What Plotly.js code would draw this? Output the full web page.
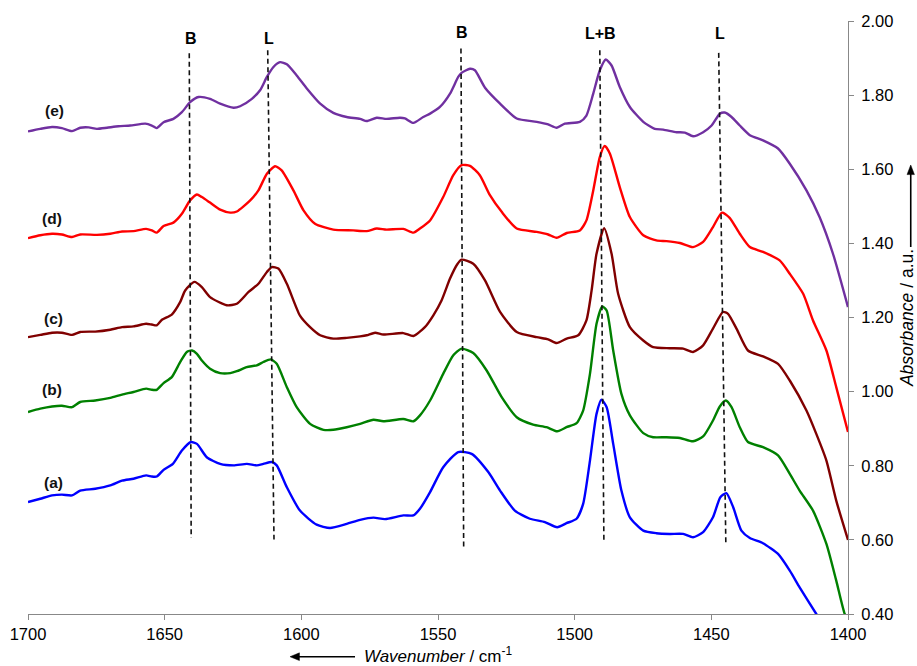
<!DOCTYPE html>
<html>
<head>
<meta charset="utf-8">
<script src="https://cdn.plot.ly/plotly-3.0.1.min.js"></script>
<style>html,body{margin:0;padding:0;background:#fff;}#chart{width:917px;height:666px;}</style>
</head>
<body>
<div id="chart"></div>
<script>
// ---- data (wavenumber / cm-1, absorbance / a.u.) ----
var waveA = [1700,1695.5,1691.2,1687.6,1683.9,1680.9,1675.4,1669.9,1665.6,1661.4,1656.8,1654.7,1652.9,1650.4,1647.0,1643.7,1640.4,1638.2,1634.6,1629.7,1624.8,1619.9,1616.3,1613.9,1610.8,1609.0,1605.3,1600.5,1594.4,1589.5,1583.4,1578.5,1573.6,1569.4,1562.7,1559.0,1556.6,1552.9,1548.1,1542.6,1537.7,1531.6,1527.3,1521.9,1516.4,1510.9,1506.4,1503.0,1499.3,1496.9,1494.4,1492.0,1490.2,1488.3,1485.9,1482.9,1479.8,1474.9,1470.1,1465.2,1460.3,1456.7,1453.0,1449.4,1446.7,1444.5,1442.0,1439.0,1435.9,1431.1,1425.6,1421.3,1417.7,1411.6,1408.0];
var absA  = [0.702,0.711,0.720,0.722,0.720,0.733,0.738,0.747,0.760,0.765,0.774,0.771,0.771,0.789,0.805,0.841,0.864,0.859,0.823,0.805,0.801,0.805,0.801,0.805,0.810,0.801,0.742,0.679,0.641,0.632,0.643,0.654,0.660,0.656,0.666,0.666,0.684,0.729,0.796,0.837,0.832,0.783,0.733,0.679,0.657,0.648,0.634,0.645,0.657,0.697,0.814,0.940,0.978,0.958,0.859,0.733,0.661,0.625,0.618,0.616,0.616,0.607,0.621,0.661,0.715,0.726,0.688,0.625,0.605,0.591,0.562,0.517,0.472,0.400,0.360];

var waveB = [1700,1695.5,1691.2,1687.6,1683.9,1680.9,1675.4,1669.9,1665.6,1661.4,1656.8,1654.7,1652.9,1650.4,1647.4,1644.3,1641.9,1640.0,1638.2,1636.4,1633.4,1629.7,1626.0,1623.6,1620.0,1616.3,1613.9,1611.2,1609.0,1605.3,1601.7,1596.8,1591.9,1588.3,1583.4,1578.5,1573.6,1570.0,1562.7,1559.0,1556.6,1552.9,1548.1,1544.4,1541.4,1537.1,1532.2,1526.7,1521.2,1515.2,1510.3,1506.4,1503.0,1499.3,1496.9,1494.4,1492.0,1489.9,1488.3,1485.9,1482.9,1479.8,1474.9,1471.3,1466.4,1461.5,1456.7,1453.0,1449.4,1446.9,1444.7,1442.6,1439.6,1436.6,1431.1,1425.6,1421.3,1417.7,1412.8,1407.9,1404.3,1401.2,1400.0];
var absB  = [0.945,0.954,0.960,0.962,0.958,0.972,0.976,0.983,0.992,0.999,1.008,1.005,1.005,1.023,1.039,1.080,1.107,1.111,1.102,1.084,1.062,1.050,1.050,1.055,1.066,1.071,1.080,1.087,1.075,1.012,0.958,0.913,0.897,0.897,0.904,0.913,0.924,0.920,0.926,0.920,0.936,0.976,1.048,1.098,1.116,1.104,1.057,0.985,0.931,0.911,0.904,0.893,0.904,0.915,0.949,1.048,1.183,1.230,1.219,1.111,0.994,0.936,0.888,0.877,0.877,0.875,0.866,0.879,0.922,0.960,0.976,0.958,0.904,0.864,0.850,0.828,0.778,0.733,0.679,0.589,0.490,0.400,0.385];

var waveC = [1700,1695.5,1691.2,1687.6,1683.9,1680.9,1675.4,1669.9,1665.6,1661.4,1656.8,1654.7,1652.9,1651.0,1647.4,1644.3,1642.5,1639.1,1636.4,1633.4,1627.3,1623.6,1619.3,1615.7,1612.6,1610.8,1608.4,1605.3,1600.5,1596.8,1593.1,1588.3,1583.4,1578.5,1576.1,1573.0,1570.0,1562.7,1559.0,1554.8,1551.7,1548.7,1545.6,1543.0,1541.4,1537.1,1532.8,1527.3,1521.2,1513.9,1509.7,1506.6,1502.9,1498.7,1495.7,1493.8,1492.0,1489.2,1486.5,1484.1,1479.8,1474.9,1471.3,1465.2,1460.3,1456.7,1453.0,1449.4,1445.7,1443.9,1440.8,1436.6,1431.1,1425.6,1421.3,1415.2,1411.6,1407.9,1404.3,1400.0];
var absC  = [1.147,1.153,1.159,1.159,1.153,1.161,1.162,1.167,1.174,1.176,1.183,1.181,1.179,1.194,1.208,1.242,1.273,1.296,1.282,1.255,1.233,1.237,1.269,1.291,1.323,1.336,1.332,1.291,1.205,1.174,1.152,1.143,1.145,1.149,1.152,1.159,1.154,1.158,1.150,1.174,1.206,1.246,1.305,1.343,1.356,1.345,1.300,1.215,1.161,1.147,1.141,1.131,1.143,1.152,1.192,1.273,1.372,1.441,1.372,1.264,1.174,1.138,1.120,1.117,1.116,1.107,1.125,1.170,1.215,1.210,1.170,1.111,1.095,1.075,1.030,0.949,0.886,0.814,0.706,0.600];

var waveD = [1700,1695.5,1691.2,1687.6,1683.9,1680.9,1674.8,1669.9,1665.6,1661.4,1656.8,1654.7,1652.9,1650.4,1646.8,1643.7,1640.7,1638.2,1636.4,1633.4,1629.7,1626.0,1623.6,1618.7,1615.7,1612.6,1609.6,1607.2,1602.9,1599.2,1595.0,1588.3,1581.0,1576.1,1572.4,1568.8,1562.7,1559.0,1556.6,1552.9,1548.1,1544.4,1541.4,1538.3,1534.7,1531.0,1526.7,1521.2,1513.9,1509.7,1506.6,1502.9,1498.1,1495.7,1493.2,1490.8,1489.0,1487.1,1483.5,1479.8,1474.9,1470.1,1466.4,1461.5,1456.7,1453.0,1449.4,1446.1,1443.3,1439.6,1435.9,1431.1,1425.0,1421.3,1416.4,1412.8,1407.9,1404.3,1400.0];
var absD  = [1.414,1.422,1.426,1.424,1.417,1.424,1.423,1.426,1.432,1.433,1.439,1.435,1.429,1.447,1.456,1.480,1.516,1.532,1.525,1.510,1.491,1.483,1.486,1.516,1.543,1.588,1.608,1.597,1.543,1.489,1.453,1.437,1.435,1.433,1.440,1.437,1.439,1.429,1.440,1.462,1.525,1.584,1.611,1.609,1.584,1.530,1.485,1.440,1.431,1.424,1.415,1.428,1.435,1.462,1.543,1.633,1.663,1.642,1.552,1.471,1.422,1.408,1.406,1.401,1.390,1.404,1.444,1.483,1.469,1.426,1.390,1.377,1.354,1.318,1.264,1.192,1.111,1.012,0.891];

var waveE = [1700,1695.5,1691.2,1687.6,1683.9,1680.9,1677.8,1674.8,1671.1,1666.9,1662.6,1657.1,1654.7,1652.9,1650.4,1646.8,1643.7,1640.7,1637.6,1633.4,1629.7,1624.8,1622.4,1618.1,1615.1,1612.6,1610.2,1607.8,1605.3,1601.7,1598.0,1593.1,1588.3,1583.4,1578.5,1576.1,1572.4,1568.8,1563.9,1562.1,1559.0,1555.4,1552.9,1549.3,1545.6,1542.6,1541.4,1538.3,1536.5,1532.8,1527.3,1521.2,1513.9,1509.7,1506.6,1503.6,1498.1,1495.7,1493.2,1490.8,1488.6,1486.5,1483.5,1479.8,1474.9,1470.7,1467.6,1462.7,1459.7,1456.7,1453.0,1449.9,1446.9,1445.1,1442.6,1439.6,1435.9,1431.1,1425.6,1421.3,1415.2,1410.4,1405.5,1400.0];
var absE  = [1.702,1.709,1.714,1.711,1.703,1.712,1.713,1.709,1.712,1.716,1.718,1.723,1.718,1.711,1.727,1.736,1.754,1.781,1.795,1.790,1.777,1.766,1.770,1.790,1.813,1.849,1.876,1.889,1.883,1.853,1.818,1.777,1.752,1.741,1.736,1.730,1.739,1.736,1.739,1.737,1.725,1.741,1.750,1.768,1.804,1.849,1.860,1.871,1.867,1.820,1.777,1.737,1.728,1.721,1.712,1.723,1.728,1.745,1.804,1.867,1.896,1.880,1.822,1.768,1.728,1.709,1.707,1.700,1.699,1.689,1.700,1.718,1.750,1.753,1.741,1.718,1.692,1.678,1.656,1.615,1.543,1.471,1.372,1.228];

var seriesNames  = ['(a)','(b)','(c)','(d)','(e)'];
var seriesColors = ['#0000ff','#008000','#800000','#ff0000','#7030a0'];
var labelWave    = [1690.8,1691.1,1690.8,1691.1,1690.4];
var labelAbs     = [0.756,1.005,1.197,1.467,1.759];

// peak markers (dashed guide lines)
var peakLabels   = ['B','L','B','L+B','L'];
var peakLabelWave= [1640.4,1612.0,1541.1,1490.5,1446.9];
var peakLabelAbs = [1.952,1.952,1.970,1.966,1.966];
var peakTopWave  = [1641.0,1612.3,1541.6,1490.8,1447.3];
var peakBotWave  = [1640.3,1610.0,1540.6,1489.3,1444.7];
var peakTopAbs   = [1.913,1.921,1.926,1.921,1.914];
var peakBotAbs   = [0.605,0.601,0.574,0.593,0.593];

var xTicks = [1700,1650,1600,1550,1500,1450,1400];

// ---- build ----
var FONT = 'Liberation Sans, Arial, sans-serif';
var waves = [waveA, waveB, waveC, waveD, waveE];
var abss  = [absA, absB, absC, absD, absE];
var traces = waves.map(function(w, i){
  return {x: w, y: abss[i], type: 'scatter', mode: 'lines', name: seriesNames[i],
          line: {color: seriesColors[i], width: 2.4, shape: 'spline', smoothing: 0.6},
          hoverinfo: 'x+y'};
});

var shapes = peakLabels.map(function(l, i){
  return {type: 'line', xref: 'x', yref: 'y', x0: peakTopWave[i], y0: peakTopAbs[i],
          x1: peakBotWave[i], y1: peakBotAbs[i],
          line: {color: '#111', width: 1.6, dash: '5px,3.5px'}};
});
// direction arrows beside the axis titles (paper coordinates)
shapes.push({type: 'line', xref: 'paper', yref: 'paper', x0: 0.3290, y0: -0.0720, x1: 0.3988, y1: -0.0720,
             line: {color: '#000', width: 1.6}});
shapes.push({type: 'path', xref: 'paper', yref: 'paper',
             path: 'M 0.3195 -0.0720 L 0.3310 -0.0655 L 0.3310 -0.0785 Z',
             fillcolor: '#000', line: {color: '#000', width: 0.5}});
shapes.push({type: 'line', xref: 'paper', yref: 'paper', x0: 1.0765, y0: 0.7440, x1: 1.0765, y1: 0.6189,
             line: {color: '#000', width: 1.6}});
shapes.push({type: 'path', xref: 'paper', yref: 'paper',
             path: 'M 1.0765 0.7572 L 1.0720 0.7410 L 1.0810 0.7410 Z',
             fillcolor: '#000', line: {color: '#000', width: 0.5}});

var annotations = [];
peakLabels.forEach(function(l, i){
  annotations.push({x: peakLabelWave[i], y: peakLabelAbs[i], xref: 'x', yref: 'y', text: '<b>' + l + '</b>',
    showarrow: false, font: {family: FONT, size: 16, color: '#000'}});
});
seriesNames.forEach(function(n, i){
  annotations.push({x: labelWave[i], y: labelAbs[i], xref: 'x', yref: 'y', text: '<b>' + n + '</b>',
    showarrow: false, font: {family: FONT, size: 15.5, color: '#111'}});
});

var layout = {
  width: 917, height: 666,
  margin: {l: 28, r: 69, t: 21, b: 52, pad: 0},
  paper_bgcolor: '#fff', plot_bgcolor: '#fff',
  showlegend: false,
  font: {family: FONT, size: 16, color: '#000'},
  xaxis: {
    range: [1700, 1400], tickmode: 'array', tickvals: xTicks, ticktext: xTicks.map(String),
    showgrid: false, zeroline: false, showline: true, linecolor: '#888', linewidth: 1,
    ticks: 'outside', ticklen: 5, tickcolor: '#888', tickwidth: 1,
    tickfont: {family: FONT, size: 16.5, color: '#000'},
    title: {text: '<i>Wavenumber</i> / cm<sup>-1</sup>', font: {family: FONT, size: 17, color: '#000'}, standoff: 8}
  },
  yaxis: {
    side: 'right', range: [0.4, 2.0], dtick: 0.2, tick0: 0.4, tickformat: '.2f',
    showgrid: false, zeroline: false, showline: true, linecolor: '#888', linewidth: 1,
    ticks: 'outside', ticklen: 5, tickcolor: '#888', tickwidth: 1, ticklabelstandoff: 4,
    tickfont: {family: FONT, size: 16.5, color: '#000'},
    title: {text: '<i>Absorbance</i> / a.u.', font: {family: FONT, size: 17.5, color: '#000'}, standoff: 10}
  },
  shapes: shapes,
  annotations: annotations
};

Plotly.newPlot('chart', traces, layout, {displayModeBar: false, staticPlot: true});
</script>
</body>
</html>
